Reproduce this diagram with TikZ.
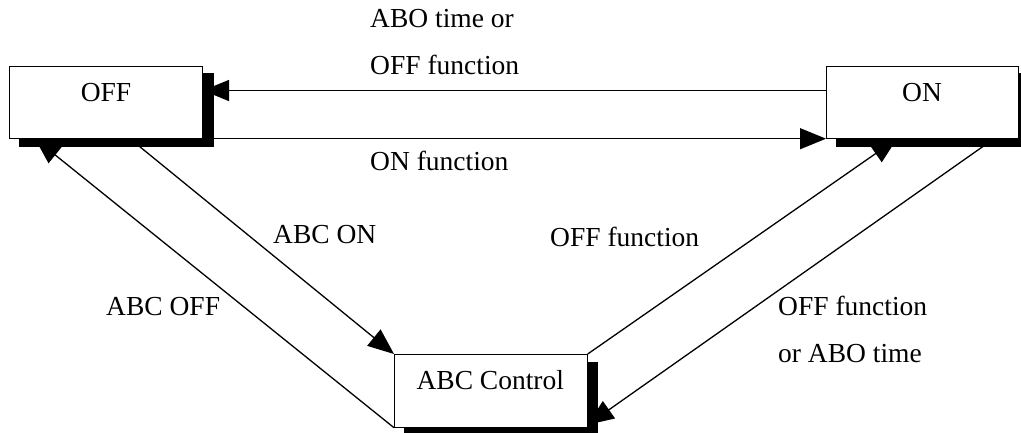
\documentclass[tikz,border=0pt]{standalone}
\usepackage{fontspec}
\setmainfont{Liberation Serif}
\usetikzlibrary{arrows.meta}
\pgfdeclarelayer{bg}
\pgfdeclarelayer{shadowlayer}
\pgfsetlayers{bg,shadowlayer,main}
\tikzset{
  box/.style={draw, line width=1pt, fill=white, inner sep=0pt, anchor=north west},
  boxtext/.style={inner sep=0pt, anchor=base},
  lbl/.style={inner sep=0pt, anchor=base west},
  arr/.style={line width=1.3pt, -{Triangle[length=26pt,width=21pt]}},
  shadowfill/.style={fill=black}
}
\begin{document}
\begin{tikzpicture}[x=1pt,y=-1pt,font=\fontsize{27.5}{33}\selectfont]
\useasboundingbox (0,0) rectangle (1021,432);
% boxes
\node[box, minimum width=192.7pt, minimum height=72pt] (off) at (9.3,65.7) {};
\node[box, minimum width=192pt, minimum height=72pt] (on) at (826,65.7) {};
\node[box, minimum width=192.7pt, minimum height=72.7pt] (abc) at (394,354) {};
\node[boxtext] (offt) at (106,101) {OFF};
\node[boxtext] (ont) at (922,101) {ON};
\node[boxtext] (abct) at (490.3,389) {ABC Control};
% shadows
\begin{pgfonlayer}{shadowlayer}
\foreach \b in {off,on,abc}{
  \fill[shadowfill] ([xshift=10pt,yshift=-7.5pt]\b.north west) rectangle ([xshift=10.5pt,yshift=-8pt]\b.south east);
}
\end{pgfonlayer}
% connectors
\begin{pgfonlayer}{bg}
\draw[arr] ([yshift=11.7pt]on.west) -- ([yshift=11.7pt]off.east);
\draw[arr] (off.south east) -- (on.south west);
\draw[arr] (abc.south west) -- ([xshift=25.7pt]off.south west);
\draw[arr] ([xshift=120.7pt]off.south west) -- (abc.north west);
\draw[arr] (abc.north east) -- ([xshift=71pt]on.south west);
\draw[arr] ([xshift=168pt]on.south west) -- ([yshift=3pt]abc.south east);
\end{pgfonlayer}
% labels
\node[lbl] (l1) at (370,27.5) {ABO time or};
\node[lbl] (l2) at (370,74.5) {OFF function};
\node[lbl] (l3) at (370,170.5) {ON function};
\node[lbl] (l4) at (273,243) {ABC ON};
\node[lbl] (l5) at (550,246) {OFF function};
\node[lbl] (l6) at (106,315) {ABC OFF};
\node[lbl] (l7) at (778,315) {OFF function};
\node[lbl] (l8) at (778,362.5) {or ABO time};
\end{tikzpicture}
\end{document}
